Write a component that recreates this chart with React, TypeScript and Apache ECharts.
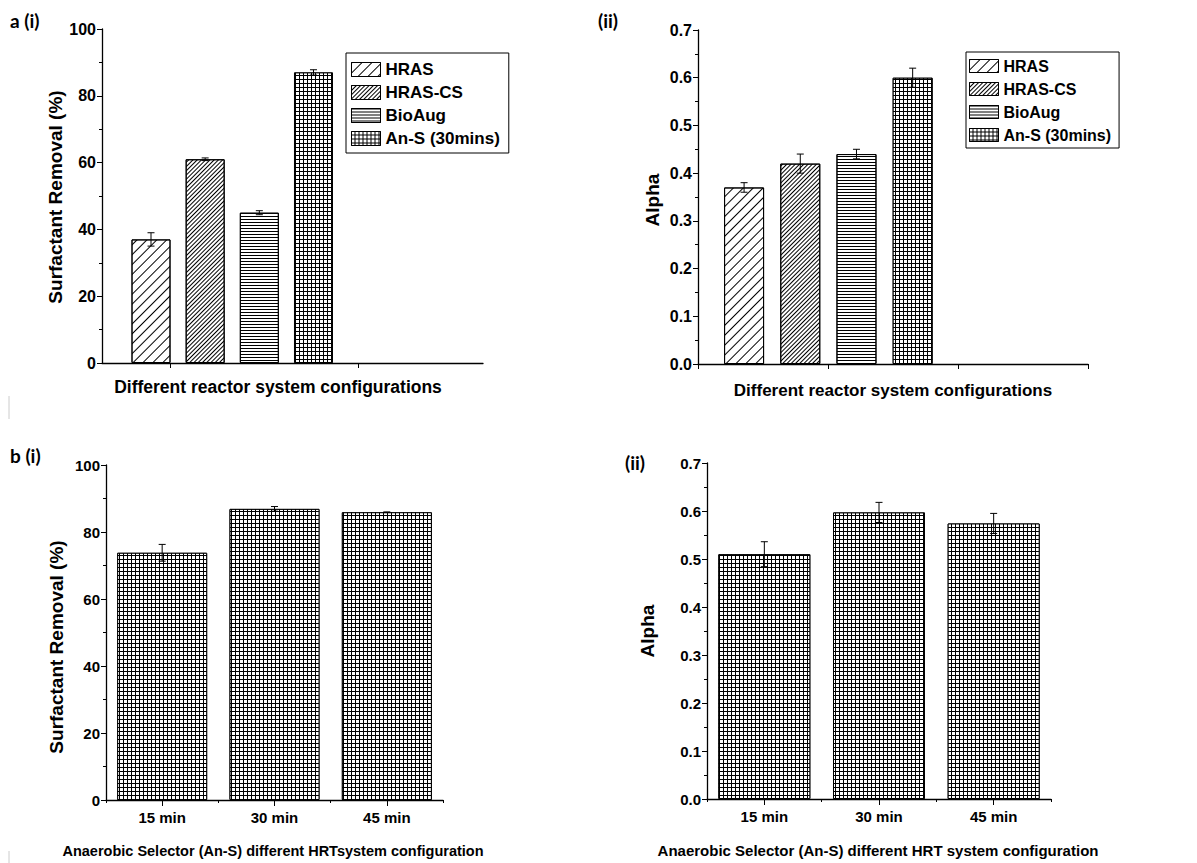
import React, { useEffect, useRef } from "react";
import * as echarts from "echarts";

// Panel a: removal and alpha for each reactor configuration
const configNames = ["HRAS", "HRAS-CS", "BioAug", "An-S (30mins)"];
const configPos = [1, 2, 3, 4];
const removalByConfig = [37, 61, 45, 87];
const removalErrByConfig = [2, 0.4, 0.6, 0.8];
const alphaByConfig = [0.37, 0.42, 0.44, 0.6];
const alphaErrByConfig = [0.01, 0.02, 0.01, 0.02];

// Panel b: anaerobic selector at different HRT
const hrtLabels = ["15 min", "30 min", "45 min"];
const hrtPos = [1, 2, 3];
const removalByHrt = [73.8, 86.9, 85.9];
const removalErrByHrt = [2.5, 0.7, 0.1];
const alphaByHrt = [0.51, 0.597, 0.574];
const alphaErrByHrt = [0.026, 0.021, 0.021];

const FONT = "'Liberation Sans', Arial, sans-serif";
const PANEL_FONT = "Lato, 'Open Sans', sans-serif";
const BLACK = "#000";

const stripe = (gap: number, rotation: number) => ({
  symbol: "rect",
  symbolSize: 1,
  dashArrayX: [1, 0],
  dashArrayY: [1, gap],
  rotation,
  color: BLACK,
});
const gridDecal = (cell: number) => ({
  symbol: "rect",
  symbolSize: 1,
  dashArrayX: [cell, 1],
  dashArrayY: [cell, 1],
  rotation: 0,
  color: "#fff",
});

const configDecals = [
  stripe(6, -Math.PI / 4),
  stripe(2, -Math.PI / 4),
  stripe(2, 0),
  gridDecal(3),
];
const configFills = ["#fff", "#fff", "#fff", BLACK];

function errorSeries(xi: number, pos: number[], vals: number[], errs: number[]) {
  return {
    type: "custom",
    xAxisIndex: xi,
    yAxisIndex: xi,
    z: 5,
    encode: { x: 0, y: [1, 2] },
    data: pos.map((p, i) => [p, vals[i] - errs[i], vals[i] + errs[i]]),
    renderItem: (_params: any, api: any) => {
      const x = api.value(0);
      const top = api.coord([x, api.value(2)]);
      const bot = api.coord([x, api.value(1)]);
      const w = 3.5;
      const st = { stroke: BLACK, lineWidth: 1 };
      return {
        type: "group",
        children: [
          { type: "line", shape: { x1: top[0], y1: top[1], x2: bot[0], y2: bot[1] }, style: st },
          { type: "line", shape: { x1: top[0] - w, y1: top[1], x2: top[0] + w, y2: top[1] }, style: st },
          { type: "line", shape: { x1: bot[0] - w, y1: bot[1], x2: bot[0] + w, y2: bot[1] }, style: st },
        ],
      };
    },
  };
}

function yAxis(gi: number, max: number, interval: number, digits: number, size: number) {
  return {
    type: "value",
    gridIndex: gi,
    min: 0,
    max,
    interval,
    splitLine: { show: false },
    axisLine: { show: true, lineStyle: { color: BLACK, width: 1.3 } },
    axisTick: { show: true, length: 5, lineStyle: { color: BLACK, width: 1 } },
    minorTick: { show: true, splitNumber: 2, length: 3, lineStyle: { color: BLACK, width: 1 } },
    axisLabel: {
      color: BLACK,
      fontFamily: FONT,
      fontWeight: "bold",
      fontSize: size,
      margin: 6,
      formatter: (v: number) => v.toFixed(digits),
    },
  };
}

const xLine = { show: true, onZero: false, lineStyle: { color: BLACK, width: 1.3 } };

function text(t: string, x: number, y: number, size: number, opts: any = {}) {
  return {
    type: "text",
    x,
    y,
    rotation: opts.rotation || 0,
    style: {
      text: t,
      fill: BLACK,
      font: `bold ${size}px ${opts.family || FONT}`,
      textAlign: opts.align || "center",
      align: opts.align || "center",
      textVerticalAlign: "middle",
      verticalAlign: "middle",
    },
  };
}

function buildOption() {
  const series: any[] = [];
  configNames.forEach((name, i) => {
    const item = {
      color: configFills[i],
      borderColor: BLACK,
      borderWidth: 1,
      decal: configDecals[i],
    };
    series.push({
      type: "bar",
      name,
      xAxisIndex: 0,
      yAxisIndex: 0,
      stack: "ai",
      barWidth: 39,
      itemStyle: item,
      data: [[configPos[i], removalByConfig[i]]],
    });
    series.push({
      type: "bar",
      name,
      xAxisIndex: 1,
      yAxisIndex: 1,
      stack: "aii",
      barWidth: 40,
      itemStyle: item,
      data: [[configPos[i], alphaByConfig[i]]],
    });
  });
  series.push(errorSeries(0, configPos, removalByConfig, removalErrByConfig));
  series.push(errorSeries(1, configPos, alphaByConfig, alphaErrByConfig));

  const hrtItem = { color: BLACK, borderColor: BLACK, borderWidth: 1, decal: gridDecal(3) };
  series.push({
    type: "bar",
    name: "removal-hrt",
    xAxisIndex: 2,
    yAxisIndex: 2,
    barWidth: 90,
    itemStyle: hrtItem,
    data: hrtPos.map((p, i) => [p, removalByHrt[i]]),
  });
  series.push({
    type: "bar",
    name: "alpha-hrt",
    xAxisIndex: 3,
    yAxisIndex: 3,
    barWidth: 92,
    itemStyle: hrtItem,
    data: hrtPos.map((p, i) => [p, alphaByHrt[i]]),
  });
  series.push(errorSeries(2, hrtPos, removalByHrt, removalErrByHrt));
  series.push(errorSeries(3, hrtPos, alphaByHrt, alphaErrByHrt));

  const hrtXAxis = (gi: number, size: number) => ({
    type: "value",
    gridIndex: gi,
    min: 0.5,
    max: 3.5,
    splitLine: { show: false },
    axisLine: xLine,
    axisTick: { show: true, length: 6, customValues: hrtPos, lineStyle: { color: BLACK, width: 1 } },
    axisLabel: {
      customValues: hrtPos,
      color: BLACK,
      fontFamily: FONT,
      fontWeight: "bold",
      fontSize: size,
      margin: 10,
      formatter: (v: number) => hrtLabels[Math.round(v) - 1] || "",
    },
  });
  const hrtMinorAxis = (gi: number) => ({
    type: "value",
    gridIndex: gi,
    min: 0.5,
    max: 3.5,
    position: "bottom",
    splitLine: { show: false },
    axisLine: { show: false },
    axisLabel: { show: false },
    axisTick: { show: true, length: 3, customValues: [0.5, 1.5, 2.5, 3.5], lineStyle: { color: BLACK, width: 1 } },
  });

  const legendBase = {
    orient: "vertical",
    icon: "rect",
    itemWidth: 29,
    borderColor: BLACK,
    borderWidth: 1,
    data: configNames,
    selectedMode: false,
    itemStyle: { borderColor: BLACK, borderWidth: 1 },
  };

  return {
    animation: false,
    backgroundColor: "#fff",
    grid: [
      { left: 102, top: 29, width: 381, height: 334 },
      { left: 698, top: 30, width: 390, height: 334 },
      { left: 106, top: 465, width: 337, height: 335 },
      { left: 707, top: 463, width: 344, height: 336 },
    ],
    xAxis: [
      {
        type: "value",
        gridIndex: 0,
        min: 0.095,
        max: 7.13,
        splitLine: { show: false },
        axisLine: xLine,
        axisLabel: { show: false },
        axisTick: { show: true, length: 5, customValues: [1.35, 4.82], lineStyle: { color: BLACK, width: 1 } },
      },
      {
        type: "value",
        gridIndex: 1,
        min: 0.18,
        max: 7.12,
        splitLine: { show: false },
        axisLine: xLine,
        axisLabel: { show: false },
        axisTick: {
          show: true,
          length: 5,
          customValues: [0.18, 2.495, 4.81, 7.12],
          lineStyle: { color: BLACK, width: 1 },
        },
      },
      hrtXAxis(2, 15),
      hrtXAxis(3, 15),
      hrtMinorAxis(2),
      hrtMinorAxis(3),
    ],
    yAxis: [
      yAxis(0, 100, 20, 0, 16),
      yAxis(1, 0.7, 0.1, 1, 16),
      yAxis(2, 100, 20, 0, 15),
      yAxis(3, 0.7, 0.1, 1, 15),
    ],
    legend: [
      {
        ...legendBase,
        left: 346,
        top: 53,
        padding: [8, 9, 6, 5],
        itemGap: 6,
        itemHeight: 14,
        textStyle: { color: BLACK, fontFamily: FONT, fontWeight: "bold", fontSize: 17 },
      },
      {
        ...legendBase,
        left: 966,
        top: 52,
        padding: [6, 8, 5, 3],
        itemGap: 7,
        itemHeight: 13,
        textStyle: { color: BLACK, fontFamily: FONT, fontWeight: "bold", fontSize: 16 },
      },
    ],
    graphic: [
      text("a (i)", 10, 20, 19, { align: "left", family: PANEL_FONT }),
      text("(ii)", 598, 20, 19, { align: "left", family: PANEL_FONT }),
      text("b (i)", 10, 455, 19, { align: "left", family: PANEL_FONT }),
      text("(ii)", 625, 462, 19, { align: "left", family: PANEL_FONT }),
      text("Surfactant Removal (%)", 55, 197, 19, { rotation: Math.PI / 2 }),
      text("Alpha", 652, 200, 19, { rotation: Math.PI / 2 }),
      text("Surfactant Removal (%)", 56, 647, 19, { rotation: Math.PI / 2 }),
      text("Alpha", 647, 631, 19, { rotation: Math.PI / 2 }),
      text("Different reactor system configurations", 278, 387, 17.5),
      text("Different reactor system configurations", 893, 390, 17),
      text("Anaerobic Selector (An-S) different HRTsystem configuration", 273, 851, 14.5),
      text("Anaerobic Selector (An-S) different HRT system configuration", 878, 850, 15),
      {
        type: "line",
        shape: { x1: 9, y1: 396, x2: 9, y2: 419 },
        style: { stroke: "#ccc", lineWidth: 1 },
      },
      {
        type: "line",
        shape: { x1: 9, y1: 851, x2: 9, y2: 863 },
        style: { stroke: "#ccc", lineWidth: 1 },
      },
    ],
    series,
  };
}

export default function App() {
  const ref = useRef<HTMLDivElement>(null);
  useEffect(() => {
    if (!ref.current) return;
    const chart = echarts.init(ref.current, null, { renderer: "svg" });
    chart.setOption(buildOption() as any);
    return () => chart.dispose();
  }, []);
  return (
    <div
      ref={ref}
      style={{ position: "fixed", left: 0, top: 0, width: 1197, height: 863, background: "#fff" }}
    />
  );
}
